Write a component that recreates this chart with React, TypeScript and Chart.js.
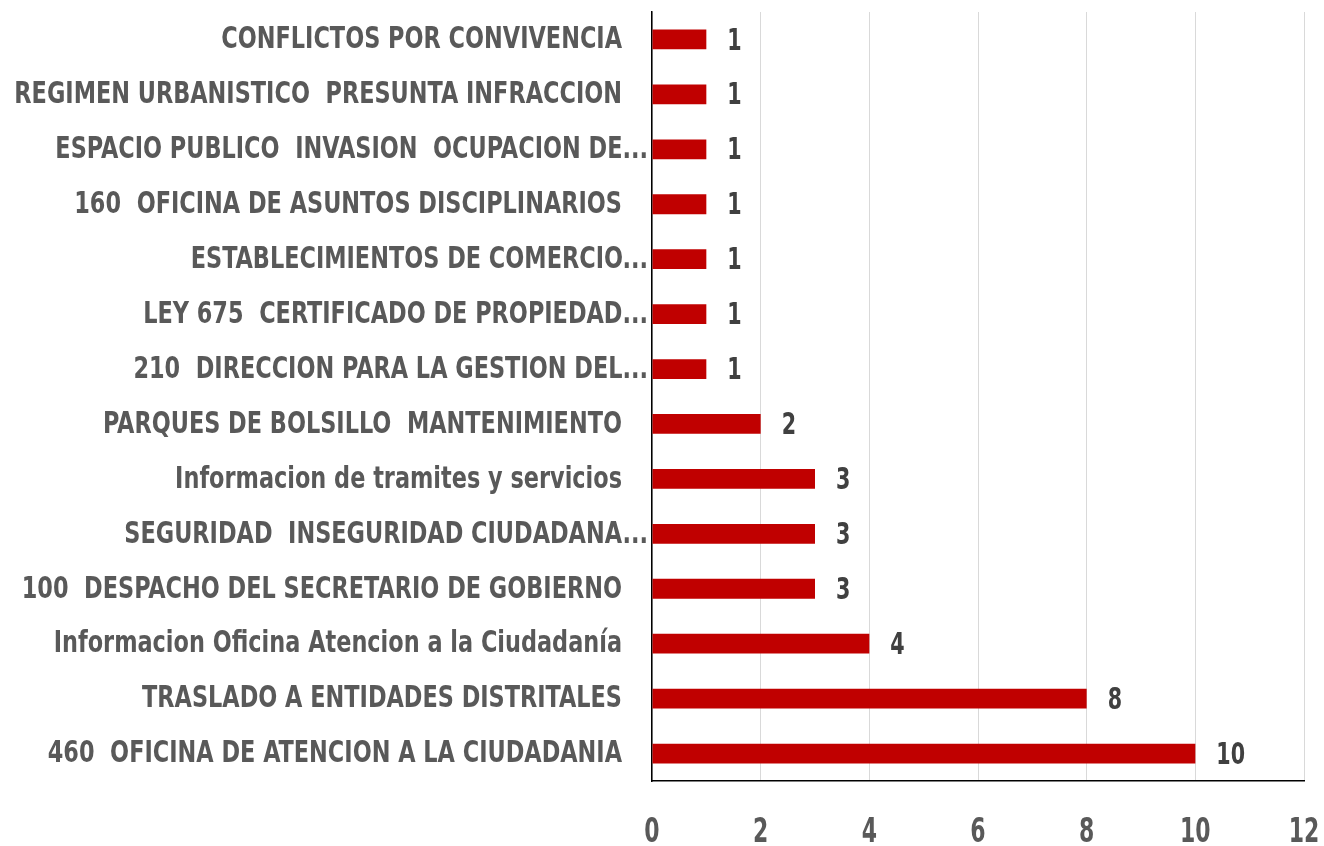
import React, { useEffect, useRef } from "react";
import { Chart, registerables } from "chart.js";

Chart.register(...registerables);

const categories: string[] = [
  "CONFLICTOS POR CONVIVENCIA",
  "REGIMEN URBANISTICO  PRESUNTA INFRACCION",
  "ESPACIO PUBLICO  INVASION  OCUPACION DE...",
  "160  OFICINA DE ASUNTOS DISCIPLINARIOS",
  "ESTABLECIMIENTOS DE COMERCIO...",
  "LEY 675  CERTIFICADO DE PROPIEDAD...",
  "210  DIRECCION PARA LA GESTION DEL...",
  "PARQUES DE BOLSILLO  MANTENIMIENTO",
  "Informacion de tramites y servicios",
  "SEGURIDAD  INSEGURIDAD CIUDADANA...",
  "100  DESPACHO DEL SECRETARIO DE GOBIERNO",
  "Informacion Oficina Atencion a la Ciudadanía",
  "TRASLADO A ENTIDADES DISTRITALES",
  "460  OFICINA DE ATENCION A LA CIUDADANIA",
];

const values: number[] = [1, 1, 1, 1, 1, 1, 1, 2, 3, 3, 3, 4, 8, 10];

const xTicks: number[] = [0, 2, 4, 6, 8, 10, 12];

const FONT = "'DejaVu Sans Condensed', 'DejaVu Sans', sans-serif";
const SX_LABEL = 0.83;
const SX_NUM = 0.74;

function drawScaled(ctx: any, text: string, x: number, y: number, sx: number) {
  ctx.save();
  ctx.translate(x, y);
  ctx.scale(sx, 1);
  ctx.fillText(text, 0, 0);
  ctx.restore();
}

const customText = {
  id: "customText",
  afterDraw(chart: any) {
    const ctx = chart.ctx;
    const yScale = chart.scales.y;
    const xScale = chart.scales.x;
    const area = chart.chartArea;
    ctx.save();
    // category labels
    ctx.font = `bold 30px ${FONT}`;
    ctx.fillStyle = "#595959";
    ctx.textAlign = "right";
    ctx.textBaseline = "middle";
    const labels: string[] = chart.data.labels;
    labels.forEach((l: string, i: number) => {
      const y = yScale.getPixelForTick(i);
      const xr = l.endsWith("...") ? area.left - 4 : area.left - 30;
      drawScaled(ctx, l, xr, y + 1, SX_LABEL);
    });
    // x tick labels
    ctx.font = `bold 33px ${FONT}`;
    ctx.textAlign = "center";
    xTicks.forEach((t) => {
      drawScaled(ctx, String(t), xScale.getPixelForValue(t), area.bottom + 52, SX_NUM);
    });
    // value labels
    const meta = chart.getDatasetMeta(0);
    ctx.font = `bold 31px ${FONT}`;
    ctx.fillStyle = "#404040";
    ctx.textAlign = "left";
    meta.data.forEach((bar: any, i: number) => {
      const v = chart.data.datasets[0].data[i];
      drawScaled(ctx, String(v), bar.x + 21, bar.y + 2, SX_NUM);
    });
    ctx.restore();
  },
};

export default function App() {
  const ref = useRef<HTMLCanvasElement>(null);
  useEffect(() => {
    if (!ref.current) return;
    const chart = new Chart(ref.current, {
      type: "bar",
      data: {
        labels: categories,
        datasets: [
          {
            data: values,
            backgroundColor: "#C00000",
            borderWidth: 0,
            categoryPercentage: 1,
            barPercentage: 0.36,
          },
        ],
      },
      options: {
        indexAxis: "y",
        animation: false,
        responsive: false,
        maintainAspectRatio: false,
        layout: { padding: { top: 12, right: 20, left: 0, bottom: 0 } },
        plugins: { legend: { display: false }, tooltip: { enabled: false } },
        scales: {
          x: {
            min: 0,
            max: 12,
            ticks: { stepSize: 2, display: false },
            grid: { color: "#d9d9d9", lineWidth: 1, drawTicks: false },
            border: { display: true, color: "#000000", width: 1.5 },
            afterFit: (s: any) => {
              s.height = 65;
              s.paddingLeft = 0;
              s.paddingRight = 0;
            },
          },
          y: {
            ticks: { display: false },
            grid: { display: false, drawTicks: false },
            border: { display: true, color: "#000000", width: 1.5 },
            afterFit: (s: any) => {
              s.width = 652;
              s.paddingTop = 0;
              s.paddingBottom = 0;
            },
          },
        },
      },
      plugins: [customText],
    });
    return () => chart.destroy();
  }, []);
  return (
    <div style={{ position: "fixed", left: 0, top: 0, width: 1324, height: 846, background: "#fff" }}>
      <canvas ref={ref} width={1324} height={846} style={{ width: 1324, height: 846 }} />
    </div>
  );
}
